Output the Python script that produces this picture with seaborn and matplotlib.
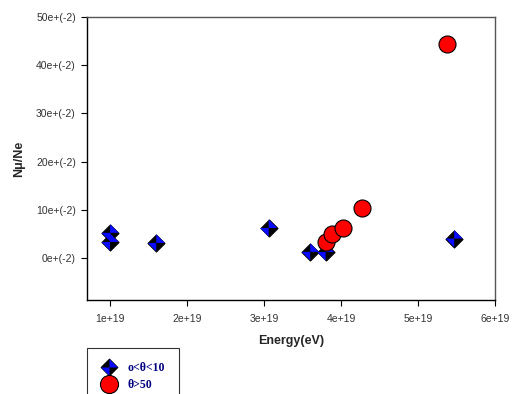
import numpy as np
import pandas as pd
import matplotlib
matplotlib.use("Agg")
import matplotlib.pyplot as plt
from matplotlib.path import Path
from matplotlib.lines import Line2D
from matplotlib.legend_handler import HandlerTuple
from matplotlib.ticker import FuncFormatter
import seaborn as sns

# DATA (energy in eV, Nmu/Ne in units of 1e-2)
low_energy = [1.0e19, 1.0e19, 1.6e19, 3.06e19, 3.6e19, 3.8e19, 5.47e19]
low_ratio = [5.2, 3.3, 3.1, 6.2, 1.25, 1.2, 4.0]
high_energy = [5.37e19, 3.8e19, 3.88e19, 4.02e19, 4.27e19]
high_ratio = [44.3, 3.3, 5.0, 6.25, 10.3]
labels = ["o<θ<10", "θ>50"]
x_ticks = [1e19, 2e19, 3e19, 4e19, 5e19, 6e19]
y_ticks = [0, 10, 20, 30, 40, 50]

sns.set_style("ticks")
plt.rcParams["font.family"] = ["Liberation Sans", "DejaVu Sans"]

# diamond marker with two blue quadrants
diamond = Path([(0, 1), (1, 0), (0, -1), (-1, 0), (0, 1)],
               [Path.MOVETO, Path.LINETO, Path.LINETO, Path.LINETO, Path.CLOSEPOLY])
quads = Path.make_compound_path(
    Path([(0, 0), (0, 1), (1, 0), (0, 0)],
         [Path.MOVETO, Path.LINETO, Path.LINETO, Path.CLOSEPOLY]),
    Path([(0, 0), (0, -1), (-1, 0), (0, 0)],
         [Path.MOVETO, Path.LINETO, Path.LINETO, Path.CLOSEPOLY]),
)
BLUE = "#0a0aff"

low_df = pd.DataFrame({"energy": low_energy, "ratio": low_ratio})
high_df = pd.DataFrame({"energy": high_energy, "ratio": high_ratio})

fig = plt.figure(figsize=(5.12, 3.94), dpi=100)
ax = fig.add_axes([87 / 512, 1 - 300 / 394, 408 / 512, 283 / 394])

sns.scatterplot(data=low_df, x="energy", y="ratio", marker=diamond, s=150,
                color="black", edgecolor="black", linewidth=0.8, ax=ax, zorder=3)
sns.scatterplot(data=low_df, x="energy", y="ratio", marker=quads, s=150,
                color=BLUE, edgecolor="none", linewidth=0, ax=ax, zorder=4)
sns.scatterplot(data=high_df, x="energy", y="ratio", marker="o", s=150,
                color="#ff0000", edgecolor="black", linewidth=0.8, ax=ax, zorder=5)

ax.set_xlim(0.7e19, 6e19)
ax.set_ylim(-8.75, 50)
ax.set_xticks(x_ticks)
ax.set_yticks(y_ticks)
ax.xaxis.set_major_formatter(FuncFormatter(lambda v, p: "%de+19" % round(v / 1e19)))
ax.yaxis.set_major_formatter(FuncFormatter(lambda v, p: "%de+(-2)" % round(v)))
ax.tick_params(labelsize=7.5, length=4, width=0.8, colors="black", labelcolor="#333333")
ax.tick_params(axis="x", pad=6)
ax.tick_params(axis="y", pad=4)
for side in ["left", "bottom"]:
    ax.spines[side].set_color("black")
    ax.spines[side].set_linewidth(1.0)
for side in ["top", "right"]:
    ax.spines[side].set_visible(True)
    ax.spines[side].set_color("#555555")
    ax.spines[side].set_linewidth(1.0)

ax.set_xlabel("Energy(eV)", fontsize=9, fontweight="bold", labelpad=8)
ax.set_ylabel("Nμ/Ne", fontsize=9, fontweight="bold", labelpad=8)

diamond_handle = (
    Line2D([], [], linestyle="none", marker=diamond, markersize=12,
           markerfacecolor="black", markeredgecolor="black", markeredgewidth=0.8),
    Line2D([], [], linestyle="none", marker=quads, markersize=12,
           markerfacecolor=BLUE, markeredgecolor="none", markeredgewidth=0),
)
circle_handle = Line2D([], [], linestyle="none", marker="o", markersize=13,
                       markerfacecolor="#ff0000", markeredgecolor="black",
                       markeredgewidth=0.8)
leg = fig.legend([diamond_handle, circle_handle], labels, loc="upper left",
                 handler_map={tuple: HandlerTuple(ndivide=1, pad=0)},
                 bbox_to_anchor=(87 / 512, 1 - 348 / 394), borderaxespad=0,
                 frameon=True, fancybox=False, edgecolor="black", borderpad=1.2,
                 handlelength=1.4, handletextpad=0.8, labelspacing=0.45,
                 prop={"family": ["Liberation Serif", "DejaVu Serif"],
                       "weight": "bold", "size": 8.5})
leg.get_frame().set_linewidth(0.8)
for t in leg.get_texts():
    t.set_color("#000080")

fig.savefig("out.png", dpi=100)
